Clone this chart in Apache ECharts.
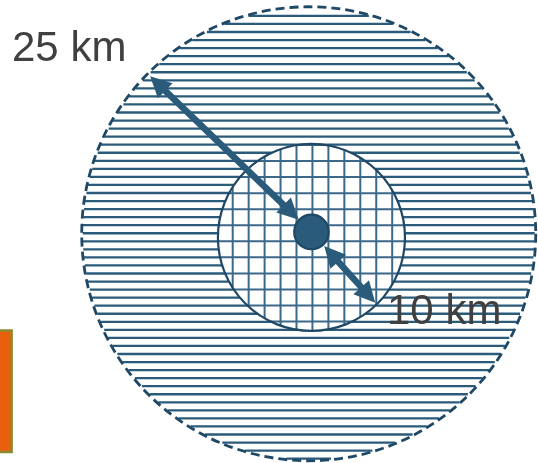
<!DOCTYPE html>
<html>
<head>
<meta charset="utf-8">
<script src="https://cdn.jsdelivr.net/npm/echarts@6/dist/echarts.min.js"></script>
<style>
html,body{margin:0;padding:0;background:#fff;}
#chart{width:538px;height:463px;}
</style>
</head>
<body>
<div id="chart"></div>
<script>
// ---- data (km) ----
const zoneLabels = ['25 km', '10 km'];
const zoneCenterX = [0, 0.3];
const zoneCenterY = [0, -0.4];
const zoneRadius = [25, 10.3];
const dotCenter = [0.3, 0.2];
const dotRadius = [1.9];
const arrowAngle = [136, -48];
const arrowFrom = [1.95, 2.1];
const arrowTo = [24.7, 10.5];

const DARK = '#2b5b7b';
const EDGE = '#1e4865';

const chart = echarts.init(document.getElementById('chart'), null, {renderer: 'canvas'});

function chordLines(cx, cy, r, positions, horizontal, style) {
  const out = [];
  positions.forEach(function (p) {
    const d = horizontal ? p - cy : p - cx;
    if (Math.abs(d) >= r - 0.5) return;
    const h = Math.sqrt(r * r - d * d);
    const shape = horizontal
      ? {x1: cx - h, y1: p, x2: cx + h, y2: p}
      : {x1: p, y1: cy - h, x2: p, y2: cy + h};
    out.push({type: 'line', shape: shape, style: style, silent: true});
  });
  return out;
}

function renderZone(params, api) {
  const i = params.dataIndex;
  const c = api.coord([api.value(0), api.value(1)]);
  const r = api.size([api.value(2), 0])[0];
  const children = [];
  children.push({type: 'circle', shape: {cx: c[0], cy: c[1], r: r}, style: {fill: '#fff'}});
  if (i === 0) {
    const ys = [];
    const step = 8.05;
    for (let k = -40; k <= 40; k++) ys.push(c[1] - 0.5 + k * step);
    children.push.apply(children, chordLines(c[0], c[1], r - 1, ys, true, {stroke: DARK, lineWidth: 2.3}));
    children.push({type: 'circle', shape: {cx: c[0], cy: c[1], r: r}, style: {fill: null, stroke: EDGE, lineWidth: 2.8, lineDash: [9, 5]}});
  } else {
    const outer = api.coord([zoneCenterX[0], zoneCenterY[0]]);
    const step = 16.05;
    const ys = [], xs = [];
    for (let k = -20; k <= 20; k++) {
      ys.push(outer[1] - 0.5 + 8.05 + k * step);
      xs.push(c[0] + 1 + k * 15.95);
    }
    const st = {stroke: '#3a6989', lineWidth: 2};
    children.push.apply(children, chordLines(c[0], c[1], r, ys, true, st));
    children.push.apply(children, chordLines(c[0], c[1], r, xs, false, st));
    children.push({type: 'circle', shape: {cx: c[0], cy: c[1], r: r}, style: {fill: null, stroke: EDGE, lineWidth: 2.2}});
  }
  return {type: 'group', children: children};
}

function renderArrow(params, api) {
  const a = api.value(0) * Math.PI / 180;
  const r1 = api.value(1), r2 = api.value(2);
  const p1 = api.coord([dotCenter[0] + r1 * Math.cos(a), dotCenter[1] + r1 * Math.sin(a)]);
  const p2 = api.coord([dotCenter[0] + r2 * Math.cos(a), dotCenter[1] + r2 * Math.sin(a)]);
  const dx = p2[0] - p1[0], dy = p2[1] - p1[1];
  const len = Math.sqrt(dx * dx + dy * dy);
  const ux = dx / len, uy = dy / len;
  const nx = -uy, ny = ux;
  const headL = 21, headW = 10.5;
  function head(tip, dir) {
    const bx = tip[0] + dir * ux * headL, by = tip[1] + dir * uy * headL;
    return {type: 'polygon', shape: {points: [tip, [bx + nx * headW, by + ny * headW], [bx - nx * headW, by - ny * headW]]}, style: {fill: DARK}};
  }
  return {type: 'group', children: [
    {type: 'line', shape: {x1: p1[0] + ux * (headL - 2), y1: p1[1] + uy * (headL - 2), x2: p2[0] - ux * (headL - 2), y2: p2[1] - uy * (headL - 2)}, style: {stroke: DARK, lineWidth: 6.5}},
    head(p1, 1),
    head(p2, -1)
  ]};
}

const option = {
  animation: false,
  grid: {left: 0, right: 0, top: 0, bottom: 0},
  xAxis: {type: 'value', min: -34, max: 25.25, show: false},
  yAxis: {type: 'value', min: -25.25, max: 25.75, show: false},
  graphic: [
    {type: 'rect', shape: {x: -5, y: 330.5, width: 16.7, height: 121.5}, style: {fill: '#e8600e', stroke: '#8b8a2c', lineWidth: 2.3}, z: 10},
    {type: 'text', left: 12, top: 28, style: {text: zoneLabels[0], font: '42px "Liberation Sans", Arial, sans-serif', fill: '#404040'}, z: 100},
    {type: 'text', left: 387, top: 291, style: {text: zoneLabels[1], font: '42px "Liberation Sans", Arial, sans-serif', fill: '#404040'}, z: 100}
  ],
  series: [
    {
      type: 'custom',
      renderItem: renderZone,
      data: zoneRadius.map(function (r, i) { return [zoneCenterX[i], zoneCenterY[i], r]; }),
      z: 1
    },
    {
      type: 'custom',
      renderItem: renderArrow,
      data: arrowAngle.map(function (a, i) { return [a, arrowFrom[i], arrowTo[i]]; }),
      z: 3
    },
    {
      type: 'custom',
      renderItem: function (params, api) {
        const c = api.coord([api.value(0), api.value(1)]);
        const r = api.size([api.value(2), 0])[0];
        return {type: 'circle', shape: {cx: c[0], cy: c[1], r: r}, style: {fill: DARK, stroke: EDGE, lineWidth: 2.2}};
      },
      data: [[dotCenter[0], dotCenter[1], dotRadius[0]]],
      z: 4
    }
  ]
};
chart.setOption(option);
</script>
</body>
</html>
